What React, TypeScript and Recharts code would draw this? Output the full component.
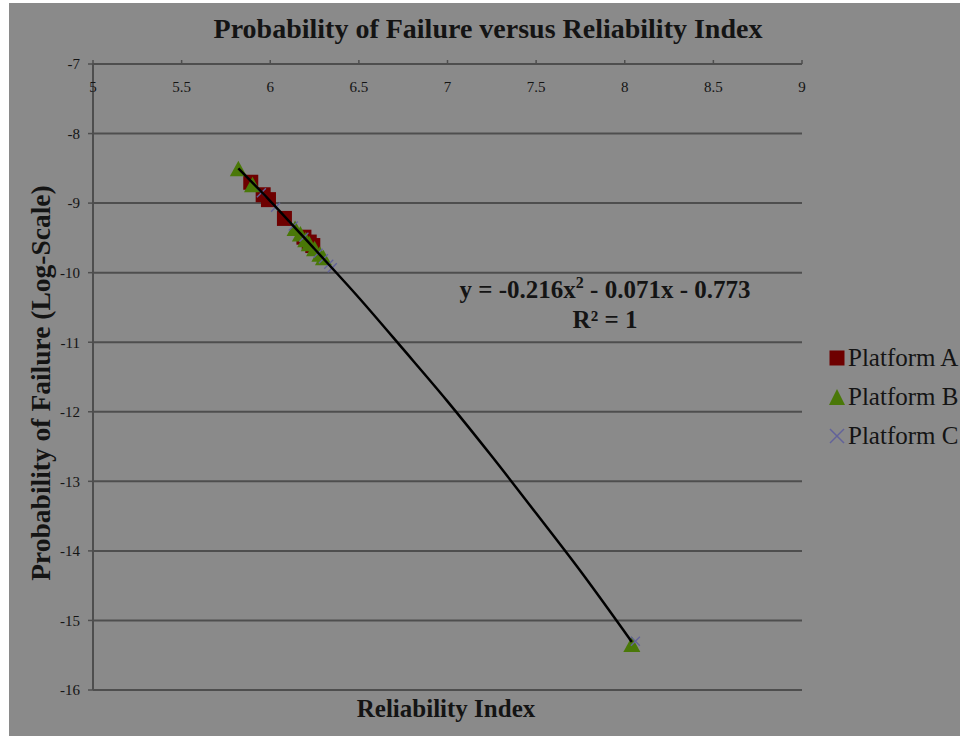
import React from 'react';
import { ScatterChart, Scatter, XAxis, YAxis, CartesianGrid, Legend } from 'recharts';

const xTicks = [5, 5.5, 6, 6.5, 7, 7.5, 8, 8.5, 9];
const yTicks = [-16, -15, -14, -13, -12, -11, -10, -9, -8, -7];

const platformA = [
  { x: 5.89, y: -8.7 },
  { x: 5.96, y: -8.88 },
  { x: 5.99, y: -8.95 },
  { x: 6.08, y: -9.22 },
  { x: 6.19, y: -9.49 },
  { x: 6.22, y: -9.56 },
  { x: 6.24, y: -9.61 },
];
const platformB = [
  { x: 5.82, y: -8.52 },
  { x: 5.9, y: -8.75 },
  { x: 6.14, y: -9.38 },
  { x: 6.17, y: -9.46 },
  { x: 6.2, y: -9.54 },
  { x: 6.22, y: -9.6 },
  { x: 6.25, y: -9.67 },
  { x: 6.28, y: -9.75 },
  { x: 6.3, y: -9.8 },
  { x: 8.04, y: -15.36 },
];
const platformC = [
  { x: 5.95, y: -8.85 },
  { x: 6.03, y: -9.06 },
  { x: 6.13, y: -9.33 },
  { x: 6.19, y: -9.49 },
  { x: 6.27, y: -9.72 },
  { x: 6.3, y: -9.8 },
  { x: 6.33, y: -9.88 },
  { x: 6.35, y: -9.93 },
  { x: 8.06, y: -15.3 },
];
const trendPoints = [
  { x: 5.82, y: -8.5 },
  { x: 6.0, y: -8.97 },
  { x: 6.25, y: -9.66 },
  { x: 6.5, y: -10.36 },
  { x: 6.75, y: -11.1 },
  { x: 7.0, y: -11.85 },
  { x: 7.25, y: -12.64 },
  { x: 7.5, y: -13.46 },
  { x: 7.75, y: -14.29 },
  { x: 8.04, y: -15.31 },
];

const chartTitle = 'Probability of Failure versus Reliability Index';
const xTitle = 'Reliability Index';
const yTitle = 'Probability of Failure (Log-Scale)';
const seriesNames = ['Platform A', 'Platform B', 'Platform C'];

const BG = '#8a8a8a';
const GRID = '#4e4e4e';
const TEXT = '#141414';
const RED = '#6e0000';
const GREEN = '#4a7808';
const PURPLE = '#62629a';
const FONT = '"Liberation Serif", "Times New Roman", serif';

const TICK_SIZE = 4;
const TICK_MARGIN = 2;

const SquareShape = (p: any) => (
  <rect x={p.cx - 7.5} y={p.cy - 7.5} width={15} height={15} fill={RED} />
);
const TriangleShape = (p: any) => (
  <polygon
    points={`${p.cx},${p.cy - 9} ${p.cx + 8.5},${p.cy + 6.5} ${p.cx - 8.5},${p.cy + 6.5}`}
    fill={GREEN}
  />
);
const CrossShape = (p: any) => (
  <g stroke={PURPLE} strokeWidth={1.3}>
    <line x1={p.cx - 4.5} y1={p.cy - 4.5} x2={p.cx + 4.5} y2={p.cy + 4.5} />
    <line x1={p.cx - 4.5} y1={p.cy + 4.5} x2={p.cx + 4.5} y2={p.cy - 4.5} />
  </g>
);
const NoShape = () => <g />;

const XTick = (p: any) => (
  <text
    x={p.x}
    y={p.y + TICK_SIZE + TICK_MARGIN + 28}
    textAnchor="middle"
    fontFamily={FONT}
    fontSize={15}
    fill={TEXT}
  >
    {p.payload.value}
  </text>
);

const legendIcon = (name: string) => {
  if (name === seriesNames[0]) return <rect x={0.5} y={0.5} width={15} height={15} fill={RED} />;
  if (name === seriesNames[1]) return <polygon points="8,0 16,16 0,16" fill={GREEN} />;
  return (
    <g stroke={PURPLE} strokeWidth={1.5}>
      <line x1={1} y1={1} x2={15} y2={15} />
      <line x1={1} y1={15} x2={15} y2={1} />
    </g>
  );
};

const LegendContent = (props: any) => {
  const items = (props.payload || []).filter((e: any) => e.type !== 'none' && seriesNames.includes(e.value));
  return (
    <div style={{ fontFamily: FONT, whiteSpace: 'nowrap' }}>
      {items.map((e: any) => (
        <div key={e.value} style={{ display: 'flex', alignItems: 'center', height: 39 }}>
          <svg width={16} height={16} style={{ marginRight: 3 }}>
            {legendIcon(e.value)}
          </svg>
          <span style={{ fontSize: 25, lineHeight: '39px', color: TEXT }}>{e.value}</span>
        </div>
      ))}
    </div>
  );
};

export default function App() {
  return (
    <div style={{ position: 'fixed', left: 0, top: 0, width: 960, height: 736, background: '#fff', overflow: 'hidden' }}>
      <div style={{ position: 'absolute', left: 9, top: 3, width: 951, height: 733, background: BG }}>
        <ScatterChart width={951} height={733} margin={{ top: 31, right: 158, bottom: 46, left: 24 }}>
          <CartesianGrid horizontal vertical={false} stroke={GRID} strokeWidth={2} />
          <XAxis
            type="number"
            dataKey="x"
            orientation="top"
            domain={[5, 9]}
            ticks={xTicks}
            height={30}
            allowDataOverflow
            tickSize={TICK_SIZE}
            tickMargin={TICK_MARGIN}
            axisLine={{ stroke: GRID, strokeWidth: 2 }}
            tickLine={{ stroke: GRID, strokeWidth: 1.5 }}
            tick={<XTick />}
            interval={0}
          />
          <YAxis
            type="number"
            dataKey="y"
            domain={[-16, -7]}
            ticks={yTicks}
            width={60}
            allowDataOverflow
            tickSize={5}
            tickMargin={8}
            axisLine={{ stroke: GRID, strokeWidth: 2 }}
            tickLine={{ stroke: GRID, strokeWidth: 1.5 }}
            tick={{ fontFamily: FONT, fontSize: 15, fill: TEXT }}
            interval={0}
          />
          <Legend
            layout="vertical"
            align="center"
            verticalAlign="middle"
            content={<LegendContent />}
            wrapperStyle={{ left: 820, top: 335, width: 200 }}
          />
          <Scatter name={seriesNames[0]} data={platformA} fill={RED} shape={SquareShape} legendType="square" isAnimationActive={false} />
          <Scatter name={seriesNames[1]} data={platformB} fill={GREEN} shape={TriangleShape} legendType="triangle" isAnimationActive={false} />
          <Scatter name={seriesNames[2]} data={platformC} fill={PURPLE} shape={CrossShape} legendType="cross" isAnimationActive={false} />
          <Scatter
            name="trend"
            data={trendPoints}
            fill="#000"
            shape={NoShape}
            line={{ stroke: '#000', strokeWidth: 2.5 }}
            lineJointType="monotoneX"
            legendType="none"
            isAnimationActive={false}
          />
        </ScatterChart>
      </div>
      <svg width={960} height={736} style={{ position: 'absolute', left: 0, top: 0, pointerEvents: 'none' }}>
        <text x={488} y={38} textAnchor="middle" fontFamily={FONT} fontWeight="bold" fontSize={28} fill={TEXT}>
          {chartTitle}
        </text>
        <text x={446} y={717} textAnchor="middle" fontFamily={FONT} fontWeight="bold" fontSize={25} fill={TEXT}>
          {xTitle}
        </text>
        <text
          transform="translate(50,383) rotate(-90)"
          textAnchor="middle"
          fontFamily={FONT}
          fontWeight="bold"
          fontSize={27.5}
          fill={TEXT}
        >
          {yTitle}
        </text>
        <text x={605} y={298} textAnchor="middle" fontFamily={FONT} fontWeight="bold" fontSize={25} fill={TEXT}>
          y = -0.216x<tspan dy={-10} fontSize={16}>2</tspan><tspan dy={10}> - 0.071x - 0.773</tspan>
        </text>
        <text x={605} y={328} textAnchor="middle" fontFamily={FONT} fontWeight="bold" fontSize={25} fill={TEXT}>
          R² = 1
        </text>
      </svg>
    </div>
  );
}
